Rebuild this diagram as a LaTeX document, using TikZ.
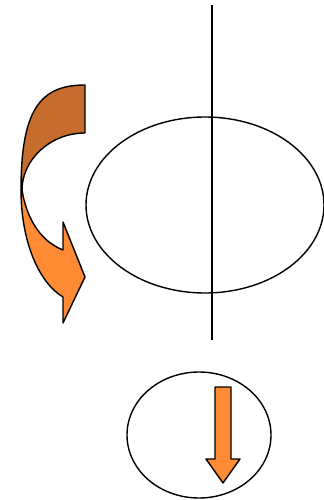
\documentclass[tikz,border=0pt]{standalone}
\usepackage{tikz}
\definecolor{bandback}{RGB}{198,108,44}
\definecolor{bandfront}{RGB}{255,140,52}

\begin{document}
\begin{tikzpicture}[x=0.02cm, y=-0.02cm,
        outline/.style={draw=black, line width=0.8pt, line join=round},
        back/.style={outline, fill=bandback},
        front/.style={outline, fill=bandfront}
    ]
        \useasboundingbox (0,0) rectangle (324,500);

        % axis and the two orbits
        \coordinate (axistop) at (212,5);
        \coordinate (axisbot) at (212,340);
        \draw[outline] (205,205) ellipse [x radius=119, y radius=88];
        \draw[outline] (axistop) -- (axisbot);
        \draw[outline] (199,435) ellipse [x radius=72, y radius=63];

        % curved arrow, back band
        \draw[back] (85,85) -- (85,133)
            .. controls (50,133) and (22,160) .. (22,190)
            -- (21,190)
            .. controls (21,110) and (40,85) .. (85,85) -- cycle;
        % curved arrow, front band with head
        \draw[front] (22,190)
            .. controls (26,215) and (38,240) .. (63,250)
            -- (63,222) -- (85,277) -- (63,323) -- (63,297)
            .. controls (38,282) and (21,240) .. (21,190) -- cycle;

        % straight arrow
        \draw[front] (215,387) -- (231,387) -- (231,459) -- (240,459)
            -- (223,483) -- (206,459) -- (215,459) -- cycle;
    \end{tikzpicture}
\end{document}
